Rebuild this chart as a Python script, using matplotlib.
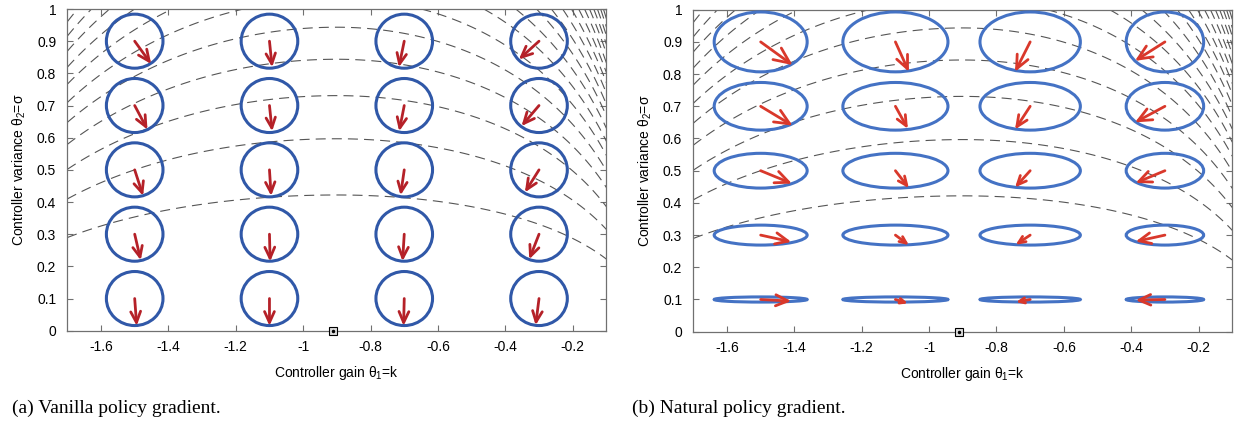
import numpy as np
import matplotlib
matplotlib.use("Agg")
import matplotlib.pyplot as plt
from matplotlib.patches import Ellipse

plt.rcParams['font.family'] = ['Liberation Sans', 'DejaVu Sans']
plt.rcParams['mathtext.fontset'] = 'custom'
plt.rcParams['mathtext.rm'] = 'Liberation Sans'

#pontos do espaço de parâmetros onde o gradiente foi avaliado
ganhos = [-1.5, -1.1, -0.7, -0.3]          # theta_1 = k
variancias = [0.1, 0.3, 0.5, 0.7, 0.9]    # theta_2 = sigma
otimo_k = -0.91

#passo do gradiente "vanilla" (linhas = variancias, colunas = ganhos)
vanilla_dk = [[0.006, 0.000, -0.002, -0.010],
              [0.018, 0.002, -0.005, -0.029],
              [0.025, 0.005, -0.011, -0.042],
              [0.038, 0.008, -0.015, -0.052],
              [0.049, 0.008, -0.016, -0.060]]
vanilla_ds = [[-0.085, -0.085, -0.085, -0.083],
              [-0.081, -0.085, -0.084, -0.078],
              [-0.081, -0.081, -0.079, -0.070],
              [-0.075, -0.080, -0.080, -0.064],
              [-0.071, -0.081, -0.081, -0.057]]
raio_vanilla = 0.084

#passo do gradiente natural
natural_dk = [[0.091, 0.037, -0.042, -0.087],
              [0.091, 0.040, -0.043, -0.087],
              [0.093, 0.040, -0.045, -0.087],
              [0.095, 0.037, -0.045, -0.089],
              [0.095, 0.040, -0.045, -0.089]]
natural_ds = [[-0.005, -0.012, -0.008, -0.002],
              [-0.021, -0.031, -0.030, -0.020],
              [-0.040, -0.054, -0.052, -0.038],
              [-0.060, -0.070, -0.072, -0.050],
              [-0.072, -0.093, -0.093, -0.059]]
#semi-eixos das elipses da métrica de Fisher
semi_k = [0.138, 0.156, 0.149, 0.115]
semi_s = [0.008, 0.031, 0.054, 0.074, 0.093]

#níveis das curvas de custo
niveis = [0.178, 0.356, 0.534, 0.712, 0.89, 1.068, 1.246, 1.424, 1.602,
          1.78, 1.958, 2.136, 2.314, 2.492, 2.67, 2.848, 3.026, 3.204,
          3.382, 3.56, 3.738, 3.916, 4.094, 4.272]

xticks = [-1.6, -1.4, -1.2, -1.0, -0.8, -0.6, -0.4, -0.2]
xticklabels = ['-1.6', '-1.4', '-1.2', '-1', '-0.8', '-0.6', '-0.4', '-0.2']
yticks = [0, 0.1, 0.2, 0.3, 0.4, 0.5, 0.6, 0.7, 0.8, 0.9, 1]
yticklabels = ['0', '0.1', '0.2', '0.3', '0.4', '0.5', '0.6', '0.7', '0.8', '0.9', '1']


def custo(k, s):
    #modelo da superfície de custo (só para as curvas de nível)
    d = k + 0.9
    r = np.where(d < 0, 1 - (d / 1.1)**2, 1 - d**2 - 0.2 * d**4)
    return s**2 / r


fig = plt.figure(figsize=(12.36, 4.23), dpi=100)
ax_a = fig.add_axes([0.05445, 0.2182, 0.43617, 0.7605])
ax_b = fig.add_axes([0.56092, 0.21584, 0.43608, 0.76123])

K, S = np.meshgrid(np.linspace(-1.7, -0.1, 500), np.linspace(0, 1, 400))
J = custo(K, S)


def desenha(ax, dk, ds, larg, alt, cor_elipse, cor_seta):
    ax.set_xlim(-1.7, -0.1)
    ax.set_ylim(0, 1)

    cs = ax.contour(K, S, J, levels=niveis, colors='#555555', linewidths=0.8)
    cs.set_linestyle((0, (9, 5.5)))

    for i, s in enumerate(variancias):
        for j, k in enumerate(ganhos):
            ax.add_patch(Ellipse((k, s), 2 * larg[j], 2 * alt[i], fill=False,
                                 edgecolor=cor_elipse, linewidth=2.2, zorder=3))
            p0 = ax.transData.transform((k, s))
            p1 = ax.transData.transform((k + dk[i][j], s + ds[i][j]))
            comp = np.hypot(*(p1 - p0)) * 72 / fig.dpi
            ax.annotate('', xy=(k + dk[i][j], s + ds[i][j]), xytext=(k, s),
                        arrowprops=dict(arrowstyle='->,head_length=1,head_width=0.45',
                                        mutation_scale=0.4 * comp, color=cor_seta,
                                        lw=2.0, shrinkA=0, shrinkB=0),
                        zorder=4)

    ax.plot([otimo_k], [0], marker='s', ms=6, mfc='#dddddd', mec='k', mew=0.8,
            clip_on=False, zorder=5)
    ax.plot([otimo_k], [0], marker='.', ms=3, color='k', clip_on=False, zorder=6)

    ax.set_xticks(xticks)
    ax.set_xticklabels(xticklabels)
    ax.set_yticks(yticks)
    ax.set_yticklabels(yticklabels)
    ax.tick_params(direction='in', top=True, right=True, length=4, width=0.8,
                   color='#707070', labelsize=10)
    ax.tick_params(axis='x', pad=7)
    ax.tick_params(axis='y', pad=8)
    for sp in ax.spines.values():
        sp.set_color('#707070')
        sp.set_linewidth(0.9)
    ax.set_xlabel('Controller gain θ$_1$=k', fontsize=10, labelpad=7)
    ax.set_ylabel('Controller variance θ$_2$=σ', fontsize=10, labelpad=6)


desenha(ax_a, vanilla_dk, vanilla_ds, [raio_vanilla] * 4, [raio_vanilla] * 5,
        '#3058a8', '#b52128')
desenha(ax_b, natural_dk, natural_ds, semi_k, semi_s, '#4472c4', '#d9382b')

fig.text(12 / 1236, 1 - 413 / 423, '(a) Vanilla policy gradient.',
         family='Liberation Serif', fontsize=14, va='baseline')
fig.text(632 / 1236, 1 - 413 / 423, '(b) Natural policy gradient.',
         family='Liberation Serif', fontsize=14, va='baseline')

fig.savefig('out.png', dpi=100)
